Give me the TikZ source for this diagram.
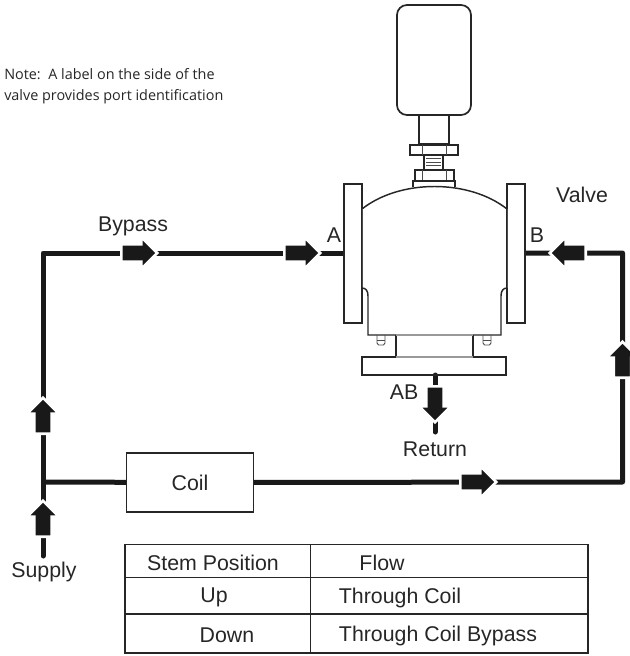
\documentclass[tikz,border=0pt]{standalone}
\usepackage{fontspec}
\setmainfont{Liberation Sans}
\newfontfamily\notefont{Open Sans}
\usetikzlibrary{shapes.arrows}

\tikzset{
	pipe/.style={line width=3.75pt, black!90, line join=round},
	part/.style={line width=1.1pt, black!85},
	thin part/.style={line width=0.7pt, black!70},
	pale part/.style={line width=1.1pt, black!40},
	flowarrow/.style={single arrow, fill=black!90, draw=white, line width=2pt, inner sep=0pt, text height=11pt, text depth=0pt, minimum height=27pt, single arrow head extend=5.5pt, single arrow head indent=0pt},
	label text/.style={font=\fontsize{16}{18}\selectfont, text=black!85, inner sep=0pt},
	note text/.style={font=\notefont\fontsize{10.8}{15.4}\selectfont, text=black!85, inner sep=0pt, align=left, anchor=north west},
}

\begin{document}
\begin{tikzpicture}[x=0.75pt, y=-0.75pt]
	\useasboundingbox (0,0) rectangle (630,656);

	\coordinate (SupplyEnd) at (43, 556);
	\coordinate (Tee) at (43, 482);
	\coordinate (CornerTL) at (43, 253);
	\coordinate (PortA) at (344, 253);
	\coordinate (PortB) at (525, 253);
	\coordinate (CornerTR) at (622.5, 253);
	\coordinate (CornerBR) at (622.5, 482);
	\coordinate (PortAB) at (435, 375);
	\coordinate (ReturnEnd) at (435, 432);

	\node (Coil) at (190, 482.5) [draw, part, minimum width=95pt, minimum height=44pt, label text] {Coil};

	% pipes
	\draw[pipe, line cap=round] (SupplyEnd) -- (Tee);
	\draw[pipe] (Tee) -- (CornerTL) -- (PortA);
	\draw[pipe] (Tee) -- (Coil);
	\draw[pipe] (Coil) -- (CornerBR) -- (CornerTR) -- (PortB);
	\draw[pipe, line cap=round] (PortAB) -- (ReturnEnd);

	% actuator
	\draw[part, line width=1.3pt, rounded corners=7.5pt] (397, 5) rectangle (471, 115);
	\draw[part, line width=1.3pt] (419, 115) rectangle (449, 144);
	\draw[part] (410, 145) rectangle (458, 155);
	\draw[thin part] (422, 145) -- (422, 155) (446, 145) -- (446, 155);
	\draw[part] (424, 155) rectangle (443, 170);
	\draw[thin part] (426, 158) -- (441, 158) (426, 162) -- (441, 162) (426, 165.5) -- (441, 165.5) (426, 169) -- (441, 169);
	\draw[part] (415, 170) rectangle (454, 181);
	\draw[thin part] (422, 170) -- (422, 181) (446, 170) -- (446, 181);
	\draw[part] (413, 187) -- (413, 181) -- (455, 181) -- (455, 187);

	% valve body
	\draw[part, fill=white] (344, 184) rectangle (362, 323);
	\draw[part, fill=white] (507, 184) rectangle (525, 323);
	\draw[part] (362, 209) .. controls (400, 179) and (469, 179) .. (507, 209);
	\draw[thin part] (362, 209) -- (362, 288);
	\draw[thin part] (507, 209) -- (507, 288);
	\draw[part] (362, 288) .. controls (366, 288) and (368, 291) .. (368, 296) -- (368, 335) -- (501, 335) -- (501, 296) .. controls (501, 291) and (503, 288) .. (507, 288);
	\draw[part] (396, 335) -- (396, 357);
	\draw[part] (473, 335) -- (473, 357);
	\draw[part] (362, 357) rectangle (506, 375);
	\draw[pale part] (396, 335) -- (473, 335) (396, 357) -- (473, 357);
	% bolts
	\foreach \bx in {381, 487} {
		\draw[thin part] (\bx-4, 335) -- (\bx-4, 343) -- (\bx-2.5, 345) -- (\bx+2.5, 345) -- (\bx+4, 343) -- (\bx+4, 335);
		\draw[thin part] (\bx-4, 340) -- (\bx+4, 340);
	}

	% arrows
	\node (ArrowSupply) at (43, 523) [flowarrow, rotate=90] {};
	\node (ArrowLeft) at (43, 420) [flowarrow, rotate=90] {};
	\node (ArrowBypass) at (135, 253) [flowarrow] {};
	\node (ArrowA) at (298, 253) [flowarrow] {};
	\node (ArrowB) at (572, 253) [flowarrow, rotate=180] {};
	\node (ArrowRight) at (622.5, 364) [flowarrow, rotate=90] {};
	\node (ArrowCoil) at (474, 482) [flowarrow] {};
	\node (ArrowAB) at (435, 400) [flowarrow, rotate=-90] {};

	% labels
	\node (LabelNote) at (4, 68.5) [note text] {Note:\ \ A label on the side of the\\valve provides port identification};
	\node (LabelBypass) at (133, 226) [label text] {Bypass};
	\node (LabelA) at (334, 235) [label text] {A};
	\node (LabelB) at (537, 235) [label text] {B};
	\node (LabelValve) at (582, 195) [label text] {Valve};
	\node (LabelAB) at (404, 392) [label text] {AB};
	\node (LabelReturn) at (435, 449) [label text] {Return};
	\node (LabelSupply) at (44, 572) [label text] {Supply};

	% table
	\coordinate (TabTL) at (125, 544.5);
	\coordinate (TabBR) at (588, 653);
	\draw[part, line width=0.9pt] (TabTL) rectangle (TabBR);
	\draw[part, line width=0.9pt] (125, 577.5) -- (588, 577.5);
	\draw[part, line width=0.9pt] (125, 614) -- (588, 614);
	\draw[part, line width=0.9pt] (310.5, 544.5) -- (310.5, 653);
	\node (HeadStem) at (213, 563) [label text] {Stem Position};
	\node (HeadFlow) at (382, 563) [label text] {Flow};
	\node (CellUp) at (214, 597) [label text] {Up};
	\node (CellThrough) at (400, 598) [label text] {Through Coil};
	\node (CellDown) at (227, 635) [label text] {Down};
	\node (CellBypass) at (438, 636) [label text] {Through Coil Bypass};
\end{tikzpicture}
\end{document}
